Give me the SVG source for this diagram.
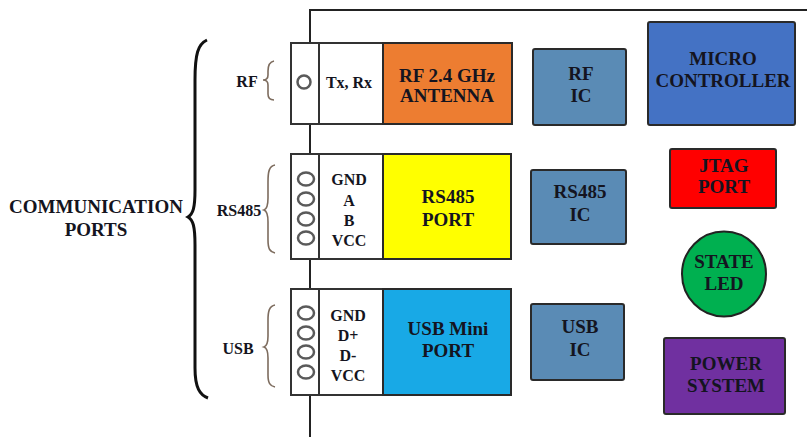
<svg xmlns="http://www.w3.org/2000/svg" width="807" height="437" viewBox="0 0 807 437" font-family="'Liberation Serif', 'Times New Roman', 'DejaVu Serif', serif">
<style>
text{font-family:'Liberation Serif','Times New Roman','DejaVu Serif',serif;font-weight:bold;text-anchor:middle;fill:#141420}
.t16{font-size:16px}
.t19{font-size:19px}
.box{stroke:#2a2a2a;stroke-width:2}
.term{fill:#fff;stroke:#333;stroke-width:2}
.hole{fill:none;stroke:#5a5a5a;stroke-width:2.5}
.brace{fill:none;stroke:#111;stroke-width:3}
.sbrace{fill:none;stroke:#7d6c5e;stroke-width:1.6}
</style>
<rect width="807" height="437" fill="#fff"/>
<g id="enclosure">
<path d="M310,437 L310,10 L807,10" fill="none" stroke="#222" stroke-width="2"/>
</g>
<g id="comm-label">
<path class="brace" d="M207,40 C198,44 195,54 195,80 L195,190 C195,208 193,214 188,217 C193,220 195,226 195,245 L195,368 C195,388 200,395 208,398"/>
<text class="t19" x="96" y="213">COMMUNICATION</text>
<text class="t19" x="96" y="236">PORTS</text>
</g>
<g id="rf-port">
<path class="sbrace" d="M274,61 C269,62 268,66 268,71 L268,75 C268,78 266,80 263,80 C266,80 268,82 268,85 L268,94 C268,98 270,100 274,100"/>
<text class="t16" x="247" y="87">RF</text>
<rect class="term" x="291" y="43" width="28" height="81"/>
<circle class="hole" cx="304" cy="82" r="6.5"/>
<rect class="term" x="319" y="43" width="64" height="81"/>
<text class="t16" x="349" y="88">Tx, Rx</text>
<rect class="box" x="383" y="43" width="129" height="81" fill="#ED7D31"/>
<text class="t19" x="447" y="82">RF 2.4 GHz</text>
<text class="t19" x="447" y="102">ANTENNA</text>
</g>
<g id="rs485-port">
<path class="sbrace" d="M275,165 C269,166 268,172 268,182 L268,198 C268,205 267,209 264,210 C267,211 268,215 268,222 L268,240 C268,249 270,252 275,253"/>
<text class="t16" x="239" y="216">RS485</text>
<rect class="term" x="291" y="154" width="28" height="105"/>
<ellipse class="hole" cx="306" cy="179" rx="8" ry="6.5"/>
<ellipse class="hole" cx="306" cy="199" rx="8" ry="6.5"/>
<ellipse class="hole" cx="306" cy="219" rx="8" ry="6.5"/>
<ellipse class="hole" cx="306" cy="238" rx="8" ry="6.5"/>
<rect class="term" x="319" y="154" width="64" height="105"/>
<text class="t16" x="349" y="185">GND</text>
<text class="t16" x="349" y="206">A</text>
<text class="t16" x="349" y="226">B</text>
<text class="t16" x="349" y="246">VCC</text>
<rect class="box" x="383" y="154" width="128" height="105" fill="#FFFF00"/>
<text class="t19" x="448" y="203">RS485</text>
<text class="t19" x="448" y="226">PORT</text>
</g>
<g id="usb-port">
<path class="sbrace" d="M275,305 C269,306 268,312 268,320 L268,336 C268,343 267,346 264,347 C267,348 268,351 268,358 L268,375 C268,383 270,386 275,387"/>
<text class="t16" x="238" y="354">USB</text>
<rect class="term" x="291" y="289" width="28" height="106"/>
<ellipse class="hole" cx="306" cy="313" rx="8" ry="6.5"/>
<ellipse class="hole" cx="306" cy="333" rx="8" ry="6.5"/>
<ellipse class="hole" cx="306" cy="352" rx="8" ry="6.5"/>
<ellipse class="hole" cx="306" cy="372" rx="8" ry="6.5"/>
<rect class="term" x="319" y="289" width="64" height="106"/>
<text class="t16" x="348" y="321">GND</text>
<text class="t16" x="348" y="341">D+</text>
<text class="t16" x="348" y="361">D-</text>
<text class="t16" x="348" y="381">VCC</text>
<rect class="box" x="383" y="289" width="128" height="106" fill="#18A9E6"/>
<text class="t19" x="448" y="335">USB Mini</text>
<text class="t19" x="448" y="357">PORT</text>
</g>
<g id="rf-ic">
<rect class="box" x="533" y="49" width="93" height="76" rx="2" fill="#5A8BB5"/>
<text class="t19" x="581" y="80">RF</text>
<text class="t19" x="581" y="102">IC</text>
</g>
<g id="rs485-ic">
<rect class="box" x="531" y="170" width="95" height="74" rx="2" fill="#5A8BB5"/>
<text class="t19" x="580" y="198">RS485</text>
<text class="t19" x="580" y="221">IC</text>
</g>
<g id="usb-ic">
<rect class="box" x="531" y="304" width="93" height="76" rx="2" fill="#5A8BB5"/>
<text class="t19" x="580" y="333">USB</text>
<text class="t19" x="580" y="356">IC</text>
</g>
<g id="microcontroller">
<rect class="box" x="648" y="22" width="147" height="103" rx="2" fill="#4472C4"/>
<text class="t19" x="723" y="65">MICRO</text>
<text class="t19" x="723" y="87">CONTROLLER</text>
</g>
<g id="jtag">
<rect class="box" x="670" y="149" width="106" height="59" rx="2" fill="#FF0000"/>
<text class="t19" x="724" y="172">JTAG</text>
<text class="t19" x="724" y="193">PORT</text>
</g>
<g id="state-led">
<ellipse cx="724" cy="274" rx="42" ry="42.5" fill="#00B050" stroke="#222" stroke-width="2"/>
<text class="t19" x="724" y="268">STATE</text>
<text class="t19" x="724" y="290">LED</text>
</g>
<g id="power">
<rect class="box" x="664" y="338" width="121" height="76" rx="2" fill="#7030A0"/>
<text class="t19" x="726" y="370">POWER</text>
<text class="t19" x="726" y="392">SYSTEM</text>
</g>
<g id="connectors"></g>
</svg>
